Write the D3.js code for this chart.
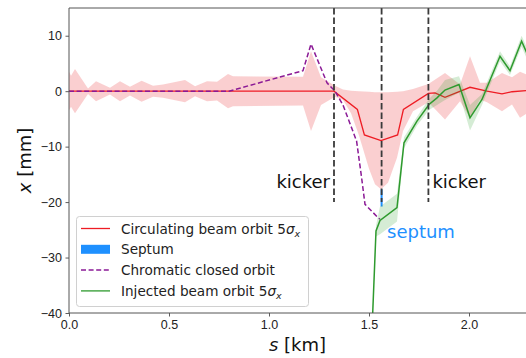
<!DOCTYPE html>
<html>
<head>
<meta charset="utf-8">
<script src="https://d3js.org/d3.v7.min.js"></script>
<style>
  body { margin: 0; background: #fff; }
  svg { font-family: "DejaVu Sans", sans-serif; }
  .tick text { font-size: 12.5px; fill: #222; }
</style>
</head>
<body>
<div id="chart"></div>
<script>
// circulating beam centre orbit
const circS = [0, 1.325, 1.442, 1.477, 1.56, 1.643, 1.672, 1.797, 1.83, 1.88, 2.005, 2.09, 2.165, 2.215, 2.29];
const circX = [0, 0, -3.3, -7.9, -8.9, -7.9, -3.3, -0.4, -0.3, -1.1, 0.7, 0, -0.5, -0.1, 0.1];

// circulating beam 5 sigma envelope
const bandS  = [0, 0.01, 0.03, 0.095, 0.135, 0.205, 0.255, 0.305, 0.363, 0.42, 0.47, 0.58, 0.63, 0.69, 0.74, 0.795, 0.82, 1.17, 1.21, 1.26, 1.33, 1.37, 1.41, 1.45, 1.50, 1.53, 1.56, 1.595, 1.64, 1.67, 1.72, 1.797, 1.88, 1.955, 2.005, 2.055, 2.09, 2.165, 2.215, 2.255, 2.29];
const bandHi = [3.5, 2.8, 4.0, 0.5, 1.8, 0.6, 1.8, 0.8, 1.9, 1.0, 1.2, 2.0, 0.9, 1.8, 1.7, 3.1, 2.7, 2.6, 7.2, 2.5, 1.0, 0.3, 0.1, 0.0, -0.1, -0.2, -0.2, -0.2, -0.1, 0.0, 0.4, 1.3, 3.3, 1.2, 6.3, 1.5, 1.5, 3.3, 2.5, 3.5, 3.0];
const bandLo = [-3.5, -2.8, -4.0, -0.5, -1.8, -0.6, -1.8, -0.8, -1.9, -1.0, -1.2, -2.0, -0.9, -1.8, -1.7, -3.1, -2.7, -2.6, -7.2, -2.5, -1.0, -1.6, -4.0, -8.0, -14.0, -16.8, -17.7, -16.5, -12.0, -7.2, -3.6, -2.0, -5.1, -1.8, -4.8, -1.5, -2.0, -3.6, -2.4, -4.8, -4.0];

// chromatic closed orbit
const chromS = [0, 0.8, 1.17, 1.21, 1.29, 1.33, 1.37, 1.438, 1.463, 1.48, 1.545, 1.555];
const chromX = [0, 0, 3.7, 8.5, 1.5, 0, -2.5, -9.0, -15.6, -20.4, -22.8, -23.1];

// injected beam orbit and its 5 sigma half width
const injS  = [1.513, 1.535, 1.555, 1.64, 1.675, 1.74, 1.80, 1.84, 1.88, 1.95, 2.005, 2.065, 2.155, 2.205, 2.263, 2.30];
const injX  = [-45, -25.2, -23.3, -21.0, -9.3, -5.4, -2.4, -1.2, 0.2, 1.2, -4.8, -1.5, 6.3, 3.7, 9.0, 6.0];
const injHW = [0.6, 1.0, 2.5, 2.5, 1.0, 0.8, 1.0, 1.3, 1.8, 1.5, 2.3, 1.0, 0.9, 0.8, 1.0, 1.0];

// elements
const kickerS = [1.325, 1.797];
const septumS = 1.563;
const septumRange = [-17.7, -20.8];

const xTicks = [0, 0.5, 1.0, 1.5, 2.0];
const yTicks = [10, 0, -10, -20, -30, -40];

const width = 526, height = 358;
const margin = { top: 8, right: 0, bottom: 45, left: 69 };

const svg = d3.select("#chart").append("svg")
  .attr("width", width).attr("height", height);

const x = d3.scaleLinear().domain([0, 2.285]).range([margin.left, width - margin.right]);
const y = d3.scaleLinear().domain([-40, 15]).range([height - margin.bottom, margin.top]);

svg.append("clipPath").attr("id", "clip")
  .append("rect")
  .attr("x", x(0)).attr("y", y(15))
  .attr("width", x(2.285) - x(0)).attr("height", y(-40) - y(15));

const plot = svg.append("g").attr("clip-path", "url(#clip)");

const band = bandS.map((s, i) => ({ s, hi: bandHi[i], lo: bandLo[i] }));
const circ = circS.map((s, i) => ({ s, v: circX[i] }));
const chrom = chromS.map((s, i) => ({ s, v: chromX[i] }));
const inj = injS.map((s, i) => ({ s, v: injX[i], hw: injHW[i] }));

const area = d3.area().x(d => x(d.s)).y0(d => y(d.lo)).y1(d => y(d.hi));
const line = d3.line().x(d => x(d.s)).y(d => y(d.v));

plot.append("path").datum(band)
  .attr("d", area)
  .attr("fill", "#e8262a").attr("fill-opacity", 0.22);

plot.append("path").datum(circ)
  .attr("d", line)
  .attr("fill", "none").attr("stroke", "#ee1c24").attr("stroke-width", 1.3);

// septum blade
plot.append("line")
  .attr("x1", x(septumS)).attr("x2", x(septumS))
  .attr("y1", y(septumRange[0])).attr("y2", y(septumRange[1]))
  .attr("stroke", "#1e90ff").attr("stroke-width", 2);

plot.append("path").datum(chrom)
  .attr("d", line)
  .attr("fill", "none").attr("stroke", "#8b1a96").attr("stroke-width", 1.5)
  .attr("stroke-dasharray", "5,2.6");

plot.append("path").datum(inj)
  .attr("d", d3.area().x(d => x(d.s)).y0(d => y(d.v - d.hw)).y1(d => y(d.v + d.hw)))
  .attr("fill", "#2ca02c").attr("fill-opacity", 0.2);

plot.append("path").datum(inj)
  .attr("d", line)
  .attr("fill", "none").attr("stroke", "#2e9a2e").attr("stroke-width", 1.5);

// vertical marker lines
[kickerS[0], septumS, kickerS[1]].forEach(s => {
  plot.append("line")
    .attr("x1", x(s)).attr("x2", x(s))
    .attr("y1", y(15)).attr("y2", y(-20))
    .attr("stroke", "#3a3a3a").attr("stroke-width", 1.8)
    .attr("stroke-dasharray", "6.5,3");
});

// annotations
svg.append("text").attr("x", x(kickerS[0]) - 4).attr("y", 188)
  .attr("text-anchor", "end").attr("font-size", 18).attr("fill", "#111").text("kicker");
svg.append("text").attr("x", x(kickerS[1]) + 4).attr("y", 188)
  .attr("font-size", 18).attr("fill", "#111").text("kicker");
svg.append("text").attr("x", 387).attr("y", 238)
  .attr("font-size", 18).attr("fill", "#1e90ff").text("septum");

// axes
const xAxis = svg.append("g")
  .attr("transform", `translate(0,${y(-40)})`)
  .call(d3.axisBottom(x).tickValues(xTicks).tickFormat(d3.format(".1f")).tickSize(3.5).tickPadding(3.5));
const yAxis = svg.append("g")
  .attr("transform", `translate(${x(0)},0)`)
  .call(d3.axisLeft(y).tickValues(yTicks).tickFormat(d => d < 0 ? "\u2212" + Math.abs(d) : d).tickSize(3.5).tickPadding(3.5));
[xAxis, yAxis].forEach(a => {
  a.select(".domain").remove();
  a.selectAll(".tick line").attr("stroke", "#333").attr("stroke-width", 0.8);
});

// spines
const frame = svg.append("g").attr("stroke", "#555").attr("stroke-width", 1).attr("fill", "none");
frame.append("line").attr("x1", x(0)).attr("x2", x(0)).attr("y1", y(15)).attr("y2", y(-40));
frame.append("line").attr("x1", x(0)).attr("x2", width).attr("y1", y(-40)).attr("y2", y(-40));
frame.append("line").attr("x1", x(0)).attr("x2", width).attr("y1", y(15)).attr("y2", y(15));

// axis labels
const xl = svg.append("text").attr("x", (x(0) + width) / 2).attr("y", 351)
  .attr("text-anchor", "middle").attr("font-size", 18).attr("fill", "#111");
xl.append("tspan").attr("font-style", "italic").text("s");
xl.append("tspan").text(" [km]");

const yl = svg.append("text")
  .attr("transform", `translate(31,${(y(15) + y(-40)) / 2}) rotate(-90)`)
  .attr("text-anchor", "middle").attr("font-size", 18).attr("fill", "#111");
yl.append("tspan").attr("font-style", "italic").text("x");
yl.append("tspan").text(" [mm]");

// legend
const leg = svg.append("g");
leg.append("rect")
  .attr("x", 76.5).attr("y", 216.5).attr("width", 232).attr("height", 90)
  .attr("rx", 3).attr("fill", "#fff").attr("fill-opacity", 0.8)
  .attr("stroke", "#d0d0d0").attr("stroke-width", 1);

const legendItems = [
  { label: "Circulating beam orbit 5", sig: true, type: "line", color: "#ee1c24" },
  { label: "Septum", type: "patch", color: "#1e90ff" },
  { label: "Chromatic closed orbit", type: "dash", color: "#8b1a96" },
  { label: "Injected beam orbit 5", sig: true, type: "line", color: "#2e9a2e" }
];
legendItems.forEach((d, i) => {
  const cy = 228.5 + i * 20.8;
  if (d.type === "patch") {
    leg.append("rect").attr("x", 81).attr("y", cy - 4.5).attr("width", 29).attr("height", 9).attr("fill", d.color);
  } else {
    leg.append("line").attr("x1", 81).attr("x2", 110).attr("y1", cy).attr("y2", cy)
      .attr("stroke", d.color).attr("stroke-width", d.type === "dash" ? 1.5 : 1.3)
      .attr("stroke-dasharray", d.type === "dash" ? "5,2.6" : null);
  }
  const t = leg.append("text").attr("x", 121).attr("y", cy + 5)
    .attr("font-size", 13.6).attr("fill", "#222");
  t.append("tspan").text(d.label);
  if (d.sig) {
    t.append("tspan").attr("font-style", "italic").text("\u03c3");
    t.append("tspan").attr("font-style", "italic").attr("font-size", 9.5).attr("dy", 3).text("x");
  }
});
</script>
</body>
</html>
